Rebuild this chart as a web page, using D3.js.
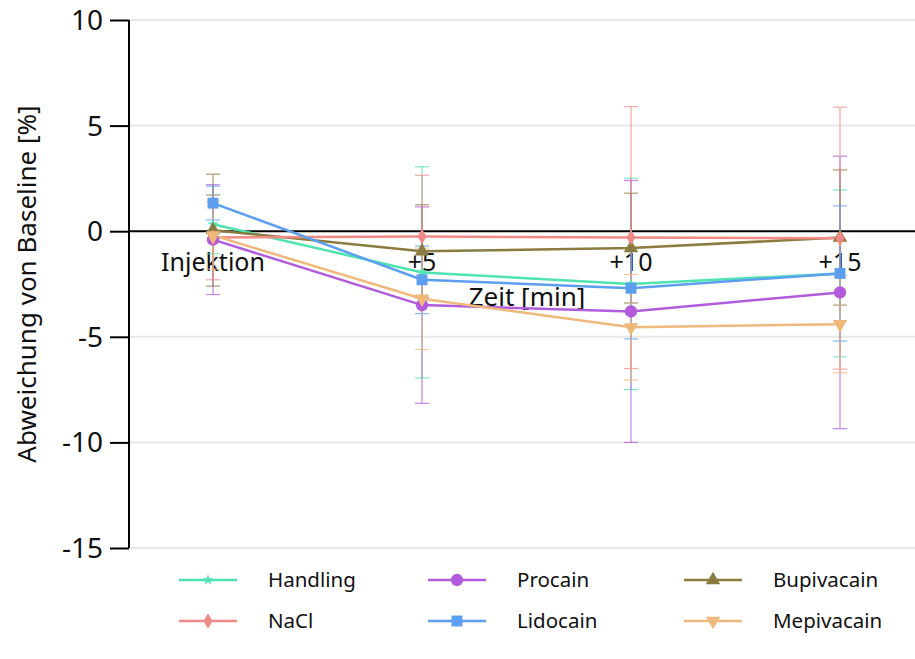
<!DOCTYPE html>
<html>
<head>
	<title>Abweichung von Baseline</title>
	<script type="text/javascript" src="https://cdn.jsdelivr.net/npm/d3@7/dist/d3.min.js"></script>
	<style type="text/css">
		body { margin: 0; background: white; }
		svg text { font-family: "Noto Sans", "Open Sans", sans-serif; fill: #111; }
	</style>
</head>
<body>

	<svg width=915 height=659 class="chart"></svg>

	<script type="text/javascript">

		// data
		categories = ['Injektion', '+5', '+10', '+15']
		series_names = ['Handling', 'Procain', 'Bupivacain', 'NaCl', 'Lidocain', 'Mepivacain']
		series_colors = ['#4fe3b0', '#b25cdd', '#8a7b3e', '#f08a86', '#5c9ff0', '#f0b97c']

		handling_mean   = [0.33, -1.95, -2.5, -2.0]
		handling_sd     = [1.4, 5.0, 5.0, 3.95]
		procain_mean    = [-0.4, -3.5, -3.8, -2.9]
		procain_sd      = [2.6, 4.65, 6.2, 6.45]
		bupivacain_mean = [0.05, -0.95, -0.8, -0.3]
		bupivacain_sd   = [2.65, 2.2, 2.6, 3.2]
		nacl_mean       = [-0.3, -0.25, -0.3, -0.33]
		nacl_sd         = [2.0, 2.9, 6.2, 6.2]
		lidocain_mean   = [1.33, -2.3, -2.7, -2.0]
		lidocain_sd     = [0.8, 1.6, 2.4, 3.2]
		mepivacain_mean = [-0.2, -3.2, -4.55, -4.4]
		mepivacain_sd   = [1.6, 2.4, 2.5, 2.3]

		y_ticks = [10, 5, 0, -5, -10, -15]

		means = [handling_mean, procain_mean, bupivacain_mean, nacl_mean, lidocain_mean, mepivacain_mean]
		sds = [handling_sd, procain_sd, bupivacain_sd, nacl_sd, lidocain_sd, mepivacain_sd]
		symbols = [d3.symbolStar, d3.symbolCircle, d3.symbolTriangle, d3.symbolDiamond, d3.symbolSquare, d3.symbolTriangle]
		sym_sizes = [40, 120, 90, 70, 120, 90]

		data = series_names.map(function(name, i) {
			return {
				name: name, color: series_colors[i], symbol: symbols[i], size: sym_sizes[i],
				flip: name == 'Mepivacain',
				values: categories.map(function(c, j) { return {cat: c, mean: means[i][j], sd: sds[i][j]} })
			}
		})

		margin = {'top': 20, 'left': 129}
		svg = d3.select('.chart')
		active_width = 915 - margin.left
		active_height = 528

		var g_main = svg.append('g')
			.attr('transform', 'translate(' + margin.left + ',' + margin.top + ')')

		x_scale = d3.scalePoint().domain(categories).range([84, 711])
		y_scale = d3.scaleLinear().domain([-15, 10]).range([active_height, 0])

		// grid
		g_main.selectAll('.grid')
			.data(y_ticks.filter(function(d) { return d != 0 }))
			.enter()
			.append('line')
			.attr('x1', 0).attr('x2', active_width)
			.attr('y1', function(d) { return y_scale(d) }).attr('y2', function(d) { return y_scale(d) })
			.attr('stroke', '#e8e8e8').attr('stroke-width', 2)

		// y axis
		var y_axis = g_main.append('g')
			.call(d3.axisLeft(y_scale).tickValues(y_ticks).tickSize(19).tickPadding(7).tickFormat(d3.format('d')))
		y_axis.select('.domain').attr('stroke', '#000').attr('stroke-width', 2)
			.attr('d', 'M0,' + y_scale(10) + 'V' + y_scale(-15))
		y_axis.selectAll('.tick line').attr('stroke', '#000').attr('stroke-width', 2)
		y_axis.selectAll('.tick text').style('font-size', '28px').attr('dy', '0.34em')
			.text(function(d) { return d < 0 ? '-' + Math.abs(d) : d })

		// zero line
		g_main.append('line')
			.attr('x1', 0).attr('x2', active_width)
			.attr('y1', y_scale(0)).attr('y2', y_scale(0))
			.attr('stroke', '#000').attr('stroke-width', 2)

		// x tick labels
		g_main.selectAll('.xlab')
			.data(categories)
			.enter()
			.append('text')
			.attr('x', function(d) { return x_scale(d) })
			.attr('y', y_scale(0) + 40)
			.attr('text-anchor', 'middle')
			.style('font-size', '25px')
			.text(function(d) { return d })

		g_main.append('text')
			.attr('x', 398).attr('y', y_scale(0) + 75)
			.attr('text-anchor', 'middle')
			.style('font-size', '26px')
			.text('Zeit [min]')

		svg.append('text')
			.attr('transform', 'translate(36,' + (margin.top + y_scale(-2.5)) + ') rotate(-90)')
			.attr('text-anchor', 'middle')
			.style('font-size', '26px')
			.text('Abweichung von Baseline [%]')

		// error bars
		var g_err = g_main.selectAll('.err')
			.data(data)
			.enter()
			.append('g')
			.attr('stroke', function(d) { return d.color })
			.attr('stroke-opacity', 0.75)
			.attr('stroke-width', 1.2)

		g_err.selectAll('line.v')
			.data(function(d) { return d.values })
			.enter()
			.append('line')
			.attr('x1', function(d) { return x_scale(d.cat) }).attr('x2', function(d) { return x_scale(d.cat) })
			.attr('y1', function(d) { return y_scale(d.mean + d.sd) }).attr('y2', function(d) { return y_scale(d.mean - d.sd) })

		g_err.selectAll('line.cap')
			.data(function(d) {
				var caps = []
				d.values.forEach(function(v) { caps.push({cat: v.cat, y: v.mean + v.sd}); caps.push({cat: v.cat, y: v.mean - v.sd}) })
				return caps
			})
			.enter()
			.append('line')
			.attr('x1', function(d) { return x_scale(d.cat) - 7 }).attr('x2', function(d) { return x_scale(d.cat) + 7 })
			.attr('y1', function(d) { return y_scale(d.y) }).attr('y2', function(d) { return y_scale(d.y) })

		// lines
		var lineGen = d3.line()
			.x(function(d) { return x_scale(d.cat) })
			.y(function(d) { return y_scale(d.mean) })

		g_main.selectAll('.series')
			.data(data)
			.enter()
			.append('path')
			.attr('d', function(d) { return lineGen(d.values) })
			.attr('fill', 'none')
			.attr('stroke', function(d) { return d.color })
			.attr('stroke-width', 2.5)

		// markers
		var g_mark = g_main.selectAll('.marks')
			.data(data)
			.enter()
			.append('g')
			.attr('fill', function(d) { return d.color })

		g_mark.selectAll('path')
			.data(function(d) { return d.values.map(function(v) { return {v: v, s: d} }) })
			.enter()
			.append('path')
			.attr('d', function(d) { return d3.symbol().type(d.s.symbol).size(d.s.size)() })
			.attr('transform', function(d) {
				return 'translate(' + x_scale(d.v.cat) + ',' + y_scale(d.v.mean) + ')' + (d.s.flip ? ' rotate(180)' : '')
			})

		// legend
		legend_x = [179, 428, 684]
		legend_y = [580, 621]
		var leg = svg.selectAll('.legend')
			.data(data)
			.enter()
			.append('g')
			.attr('transform', function(d, i) {
				return 'translate(' + legend_x[i % 3] + ',' + legend_y[Math.floor(i / 3)] + ')'
			})

		leg.append('line')
			.attr('x1', 0).attr('x2', 58)
			.attr('stroke', function(d) { return d.color })
			.attr('stroke-width', 2.5)

		leg.append('path')
			.attr('d', function(d) { return d3.symbol().type(d.symbol).size(d.size)() })
			.attr('transform', function(d) { return 'translate(29,0)' + (d.flip ? ' rotate(180)' : '') })
			.attr('fill', function(d) { return d.color })

		leg.append('text')
			.attr('x', 89).attr('y', 0).attr('dy', '0.35em')
			.style('font-size', '20.5px')
			.text(function(d) { return d.name })

	</script>

</body>
</html>
